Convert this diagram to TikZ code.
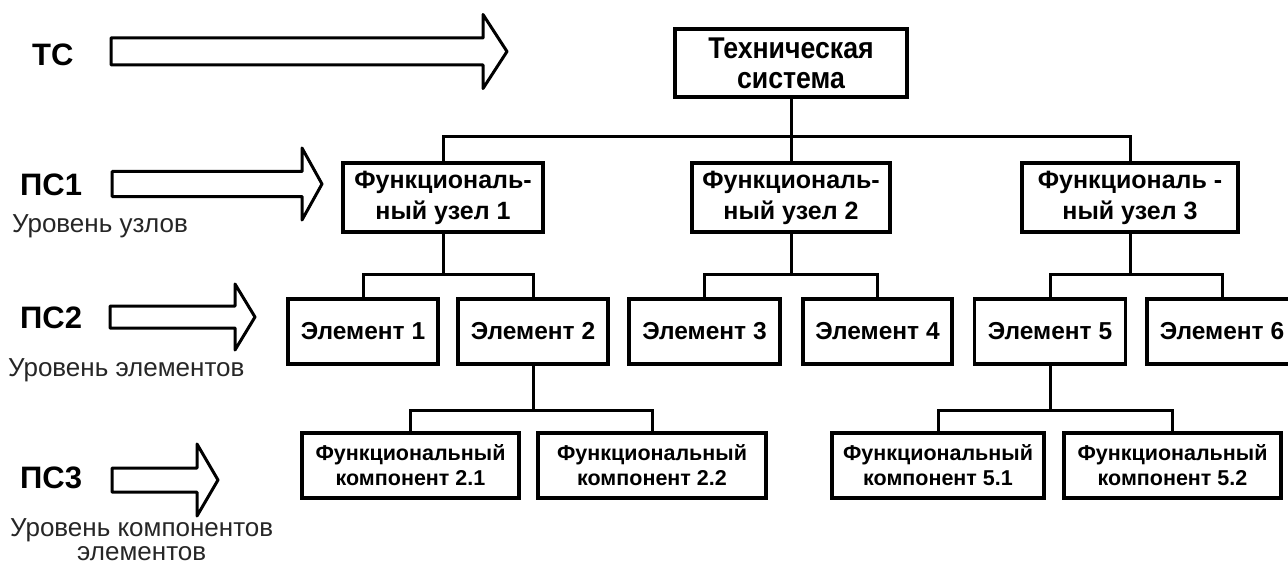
\documentclass[tikz,border=0pt]{standalone}
\usepackage{fontspec}
\setmainfont{Liberation Sans}
\newfontfamily\tsfont{Liberation Sans}[FakeStretch=0.89]
\newfontfamily\boxfont{Liberation Sans}

% hollow block arrow: start x, head base x, tip x, middle y, half shaft, half head
\newcommand\levelarrow[6]{%
  \draw[hollow] (#1,#4-#5) -- (#2,#4-#5) -- (#2,#4-#6) -- (#3,#4)
    -- (#2,#4+#6) -- (#2,#4+#5) -- (#1,#4+#5) -- cycle;}

\begin{document}
\begin{tikzpicture}[x=1pt,y=-1pt,
  hollow/.style={draw=black, fill=white, line width=3pt, line join=round},
  box/.style={draw=black, line width=3.2pt, inner sep=0pt, align=center, fill=white},
  tsbox/.style={box, font={\tsfont\bfseries\fontsize{30}{30}\selectfont}},
  nodebox/.style={box, minimum height=69pt, font={\boxfont\bfseries\fontsize{25}{31}\selectfont}},
  elembox/.style={box, minimum height=65pt, font={\boxfont\bfseries\fontsize{24.5}{28}\selectfont}},
  compbox/.style={box, minimum height=65pt, font={\boxfont\bfseries\fontsize{21.5}{25}\selectfont}},
  conn/.style={draw=black, line width=3pt},
  level/.style={anchor=base west, inner sep=0pt, font={\bfseries\fontsize{31}{31}\selectfont}},
  levelnote/.style={inner sep=0pt, text=black!85, font={\fontsize{26}{26}\selectfont}}
]
\fill[white] (0,0) rectangle (1288,567);
\useasboundingbox (0,0) rectangle (1288,567);

% level arrows
\levelarrow{111}{483}{507}{51.5}{13.5}{37}
\levelarrow{112}{302}{322}{184}{12.5}{36}
\levelarrow{110}{235}{255}{317}{11}{33}
\levelarrow{112}{197}{218}{480}{12}{36}

% level labels
\node[level] (lts) at (32,66) {ТС};
\node[level] (lps1) at (20,195) {ПС1};
\node[level] (lps2) at (20,328) {ПС2};
\node[level] (lps3) at (20,488) {ПС3};
\node[levelnote, anchor=base west] (nps1) at (12,232) {Уровень узлов};
\node[levelnote, anchor=base west] (nps2) at (8,376) {Уровень элементов};
\node[levelnote, anchor=base west] (nps3) at (10,536) {Уровень компонентов};
\node[levelnote, anchor=base] (nps3b) at (nps3.base |- 0,560) {элементов};

% hierarchy boxes
\node[tsbox, minimum width=232pt, minimum height=68pt] (ts) at (791,63) {Техническая\\система};

\node[nodebox, minimum width=200pt] (b1) at (443,197.5) {Функциональ-\\ный узел 1};
\node[nodebox, minimum width=198pt] (b2) at (791,197.5) {Функциональ-\\ный узел 2};
\node[nodebox, minimum width=216pt] (b3) at (1130,197.5) {Функциональ -\\ный узел 3};

\node[elembox, minimum width=150pt] (e1) at (363,331.5) {Элемент 1};
\node[elembox, minimum width=150pt] (e2) at (533,331.5) {Элемент 2};
\node[elembox, minimum width=151pt] (e3) at (704.5,331.5) {Элемент 3};
\node[elembox, minimum width=149pt] (e4) at (877.5,331.5) {Элемент 4};
\node[elembox, minimum width=151pt] (e5) at (1050,331.5) {Элемент 5};
\node[elembox, minimum width=150pt] (e6) at (1222,331.5) {Элемент 6};

\node[compbox, minimum width=217pt] (c21) at (410.5,465.5) {Функциональный\\компонент 2.1};
\node[compbox, minimum width=228pt] (c22) at (652,465.5) {Функциональный\\компонент 2.2};
\node[compbox, minimum width=212pt] (c51) at (938,465.5) {Функциональный\\компонент 5.1};
\node[compbox, minimum width=217pt] (c52) at (1172.5,465.5) {Функциональный\\компонент 5.2};

% bus levels
\coordinate (bus1) at (0,137);
\coordinate (bus2) at (0,274);
\coordinate (bus3) at (0,410);

% system -> functional units
\draw[conn] (ts.south) -- (ts.south |- bus1);
\draw[conn] (b1.north) |- (bus1 -| b3.north) -- (b3.north);
\draw[conn] (b2.north) -- (b2.north |- bus1);

% functional units -> elements
\draw[conn] (b1.south) -- (b1.south |- bus2);
\draw[conn] (e1.north) |- (bus2 -| e2.north) -- (e2.north);
\draw[conn] (b2.south) -- (b2.south |- bus2);
\draw[conn] (e3.north) |- (bus2 -| e4.north) -- (e4.north);
\draw[conn] (b3.south) -- (b3.south |- bus2);
\draw[conn] (e5.north) |- (bus2 -| e6.north) -- (e6.north);

% elements -> components
\draw[conn] (e2.south) -- (e2.south |- bus3);
\draw[conn] (c21.north) |- (bus3 -| c22.north) -- (c22.north);
\draw[conn] (e5.south) -- (e5.south |- bus3);
\draw[conn] (c51.north) |- (bus3 -| c52.north) -- (c52.north);
\end{tikzpicture}
\end{document}
